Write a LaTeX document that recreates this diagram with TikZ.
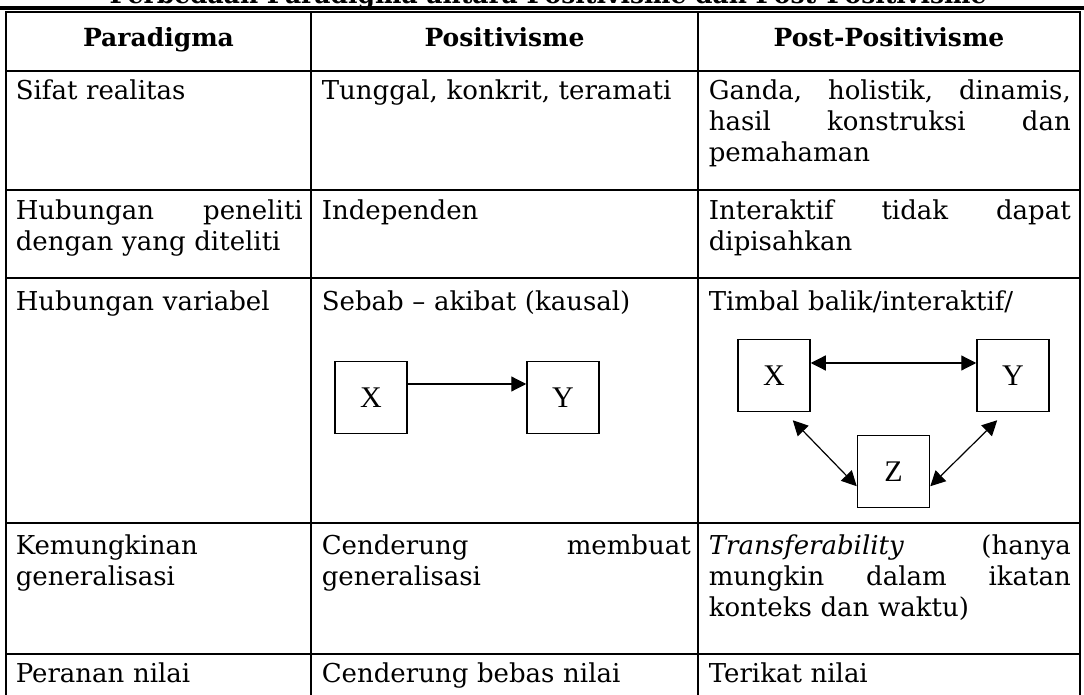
\documentclass[tikz,border=0pt]{standalone}
\usepackage{fontspec}
\setmainfont{DejaVu Serif}
\newfontfamily\varfont{Liberation Serif}
\usetikzlibrary{arrows.meta}

\begin{document}
\begin{tikzpicture}[x=0.5pt, y=-0.5pt, thick]
    \tikzstyle{grid} = [draw, line width=1pt, black]
    \tikzstyle{cell} = [anchor=base west, inner sep=0pt, align=left, font=\fontsize{13}{15.4}\selectfont]
    \tikzstyle{colA} = [cell, text width=143.5pt]
    \tikzstyle{colB} = [cell, text width=184.5pt]
    \tikzstyle{colC} = [cell, text width=181pt]
    \tikzstyle{head} = [anchor=base, inner sep=0pt, font=\fontsize{12.5}{15.25}\selectfont\bfseries]
    \tikzstyle{var} = [rectangle, draw, line width=0.75pt, minimum size=36pt, inner sep=0pt, font=\varfont\fontsize{15}{18}\selectfont]
    \tikzstyle{line} = [draw, line width=0.6pt, -{Triangle[length=7.5pt, width=7.5pt]}]
    \tikzstyle{both} = [draw, line width=0.6pt, {Triangle[length=7.5pt, width=7.5pt]}-{Triangle[length=7.5pt, width=7.5pt]}]

    \useasboundingbox (0,0) rectangle (1084,695);
    \clip (0,0) rectangle (1084,695);

    % Title (cut off by the page edge)
    \node [head] (title) at (548,3.5) {Perbedaan Paradigma antara Positivisme dan Post-Positivisme};

    % Table rules
    \draw [line width=1.6pt] (0,8) -- (1084,8);
    \draw [grid] (6,12) rectangle (1080,720);
    \foreach \y in {71,190,278,523,654}
        \draw [grid] (6,\y) -- (1080,\y);
    \foreach \x in {311,698}
        \draw [grid] (\x,12) -- (\x,720);

    % Header
    \node [head] (hA) at (158.5,47) {Paradigma};
    \node [head] (hB) at (504.5,47) {Positivisme};
    \node [head] (hC) at (889,47) {Post-Positivisme};

    % Rows
    \node [colA] (r1a) at (15,100) {Sifat realitas};
    \node [colB] (r1b) at (321,100) {Tunggal, konkrit, teramati};
    \node [colC] (r1c) at (708,100) {Ganda,\hfill holistik,\hfill dinamis,\\ hasil\hfill konstruksi\hfill dan\\ pemahaman};

    \node [colA] (r2a) at (15,220) {Hubungan\hfill peneliti\\ dengan yang diteliti};
    \node [colB] (r2b) at (321,220) {Independen};
    \node [colC] (r2c) at (708,220) {Interaktif\hfill tidak\hfill dapat\\ dipisahkan};

    \node [colA] (r3a) at (15,311) {Hubungan variabel};
    \node [colB] (r3b) at (321,311) {Sebab -- akibat (kausal)};
    \node [colC] (r3c) at (708,311) {Timbal balik/interaktif/};

    \node [colA] (r4a) at (15,555) {Kemungkinan\\ generalisasi};
    \node [colB] (r4b) at (321,555) {Cenderung\hfill membuat\\ generalisasi};
    \node [colC] (r4c) at (708,555) {\textit{Transferability}\hfill (hanya\\ mungkin\hfill dalam\hfill ikatan\\ konteks dan waktu)};

    \node [colA] (r5a) at (15,683) {Peranan nilai};
    \node [colB] (r5b) at (321,683) {Cenderung bebas nilai};
    \node [colC] (r5c) at (708,683) {Terikat nilai};

    % Variables
    \node [var] (xa) at (371,397.5) {X};
    \node [var] (ya) at (563,397.5) {Y};
    \node [var] (xb) at (774,375.5) {X};
    \node [var] (yb) at (1013,375.5) {Y};
    \node [var] (zb) at (893.5,471.5) {Z};

    % Connections
    \path [line] ([yshift=6.75pt]xa.east) -- ([yshift=6.75pt]ya.west);
    \path [both] ([yshift=6.25pt]xb.east) -- ([yshift=6.25pt]yb.west);
    \path [both] ([shift={(-9pt,-4pt)}]xb.south east) -- ([yshift=11pt]zb.south west);
    \path [both] ([shift={(10.5pt,-4pt)}]yb.south west) -- ([yshift=11pt]zb.south east);
\end{tikzpicture}
\end{document}
